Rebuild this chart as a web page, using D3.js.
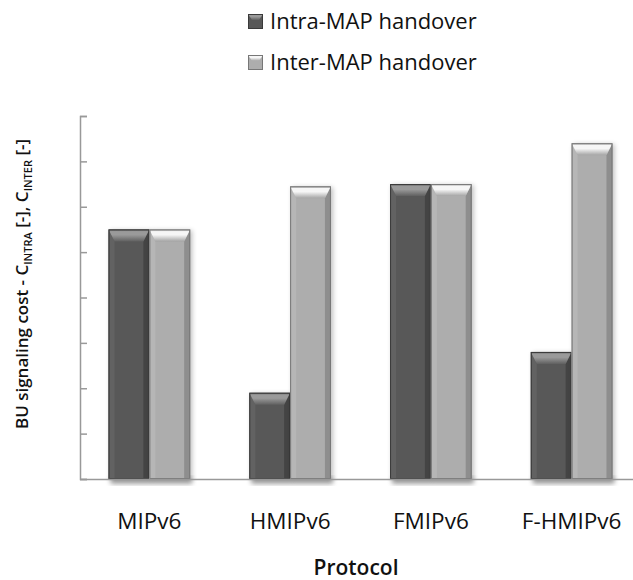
<!DOCTYPE html>
<html>
<head>
<meta charset="utf-8">
<title>BU signaling cost</title>
<script src="https://d3js.org/d3.v7.min.js"></script>
<style>
  body { margin: 0; background: #fff; }
  text { font-family: "Open Sans", sans-serif; fill: #111; }
</style>
</head>
<body>
<script>
// data
var protocols = ["MIPv6", "HMIPv6", "FMIPv6", "F-HMIPv6"];
var seriesNames = ["Intra-MAP handover", "Inter-MAP handover"];
var intraCost = [5.5, 1.9, 6.5, 2.8];
var interCost = [5.5, 6.45, 6.5, 7.4];
var yTicks = [0, 1, 2, 3, 4, 5, 6, 7, 8];

var width = 633, height = 580;
var svg = d3.select("body").append("svg")
    .attr("width", width)
    .attr("height", height);

var defs = svg.append("defs");
defs.append("filter").attr("id", "shadow")
    .attr("x", "-20%").attr("y", "-20%").attr("width", "140%").attr("height", "140%")
  .append("feGaussianBlur").attr("stdDeviation", 2.5);

var colors = [
  {body: "#585858", edge: "#3a3a3a", left: "#626262", right: "#444444", topA: "#9a9a9a", topB: "#606060"},
  {body: "#adadad", edge: "#777777", left: "#b6b6b6", right: "#8e8e8e", topA: "#f6f6f6", topB: "#a4a4a4"}
];
colors.forEach(function(c, i){
  var g = defs.append("linearGradient").attr("id", "top" + i)
      .attr("x1", 0).attr("y1", 0).attr("x2", 0).attr("y2", 1);
  g.append("stop").attr("offset", "0%").attr("stop-color", c.topB);
  g.append("stop").attr("offset", "18%").attr("stop-color", c.topA);
  g.append("stop").attr("offset", "45%").attr("stop-color", c.topA);
  g.append("stop").attr("offset", "100%").attr("stop-color", c.topB);
});

var x0 = d3.scaleBand().domain(protocols).range([79, 642]).paddingInner(0.42).paddingOuter(0.21);
var x1 = d3.scaleBand().domain([0, 1]).range([0, x0.bandwidth()]);
var y = d3.scaleLinear().domain([0, 8]).range([479, 116]);

// y axis (no labels, inward ticks)
var yAxis = svg.append("g").attr("transform", "translate(80,0)")
    .call(d3.axisLeft(y).tickValues(yTicks).tickSize(-7).tickFormat(""));
yAxis.selectAll("path, line").attr("stroke", "#999").attr("stroke-width", 1.5);

var rows = protocols.map(function(p, i){ return {p: p, v: [intraCost[i], interCost[i]]}; });

var groups = svg.selectAll("g.cat").data(rows).enter().append("g")
    .attr("class", "cat")
    .attr("transform", function(d){ return "translate(" + x0(d.p) + ",0)"; });

// shadows under each group
groups.append("rect")
    .attr("x", 2).attr("y", y(0) - 2)
    .attr("width", x0.bandwidth()).attr("height", 7)
    .attr("fill", "#000").attr("opacity", 0.35)
    .attr("filter", "url(#shadow)");

groups.each(function(d){
  var g = d3.select(this);
  d.v.forEach(function(v, s){
    var c = colors[s];
    var bx = x1(s), bw = x1.bandwidth(), by = y(v), bh = y(0) - y(v);
    var bev = 12, side = 6;
    var b = g.append("g");
    b.append("rect").attr("x", bx + 2).attr("y", by + 1).attr("width", bw).attr("height", bh)
        .attr("fill", "#000").attr("opacity", 0.25).attr("filter", "url(#shadow)");
    b.append("rect").attr("x", bx).attr("y", by).attr("width", bw).attr("height", bh)
        .attr("fill", c.body);
    b.append("polygon").attr("fill", c.left)
        .attr("points", [[bx, by], [bx + side, by + bev], [bx + side, by + bh], [bx, by + bh]].join(" "));
    b.append("polygon").attr("fill", c.right)
        .attr("points", [[bx + bw, by], [bx + bw - side, by + bev], [bx + bw - side, by + bh], [bx + bw, by + bh]].join(" "));
    b.append("polygon").attr("fill", "url(#top" + s + ")")
        .attr("points", [[bx, by], [bx + bw, by], [bx + bw - side, by + bev], [bx + side, by + bev]].join(" "));
    b.append("rect").attr("x", bx + 0.5).attr("y", by + 0.5).attr("width", bw - 1).attr("height", bh - 1)
        .attr("fill", "none").attr("stroke", c.edge).attr("stroke-width", 1);
  });
});

// x axis baseline
svg.append("line").attr("x1", 80).attr("x2", width).attr("y1", 479.5).attr("y2", 479.5)
    .attr("stroke", "#999").attr("stroke-width", 1.5);

// category labels
svg.selectAll("text.cat").data(protocols).enter().append("text")
    .attr("class", "cat")
    .attr("x", function(d){ return x0(d) + x0.bandwidth() / 2; })
    .attr("y", 529)
    .attr("text-anchor", "middle")
    .style("font-size", "22.5px")
    .text(function(d){ return d; });

svg.append("text").attr("x", 356).attr("y", 575).attr("text-anchor", "middle")
    .style("font-size", "21px").style("font-weight", "600").text("Protocol");

// y title with subscripts
var yt = svg.append("text")
    .attr("transform", "translate(28,284) rotate(-90)")
    .attr("text-anchor", "middle")
    .style("font-size", "17px").style("font-weight", "600");
yt.append("tspan").text("BU signaling cost - C");
yt.append("tspan").attr("dy", 4).style("font-size", "11px").text("INTRA");
yt.append("tspan").attr("dy", -4).text(" [-], C");
yt.append("tspan").attr("dy", 4).style("font-size", "11px").text("INTER");
yt.append("tspan").attr("dy", -4).text(" [-]");

// legend
var leg = svg.selectAll("g.leg").data(seriesNames).enter().append("g")
    .attr("class", "leg")
    .attr("transform", function(d, i){ return "translate(248," + (14 + i * 41) + ")"; });
leg.each(function(d, i){
  var g = d3.select(this), c = colors[i], s = 15;
  g.append("rect").attr("width", s).attr("height", s).attr("fill", c.body);
  g.append("polygon").attr("fill", "url(#top" + i + ")")
      .attr("points", [[0, 0], [s, 0], [s - 4, 6], [4, 6]].join(" "));
  g.append("rect").attr("x", 0.5).attr("y", 0.5).attr("width", s - 1).attr("height", s - 1)
      .attr("fill", "none").attr("stroke", c.edge);
  g.append("text").attr("x", 22).attr("y", 15).style("font-size", "22px").text(d);
});
</script>
</body>
</html>
